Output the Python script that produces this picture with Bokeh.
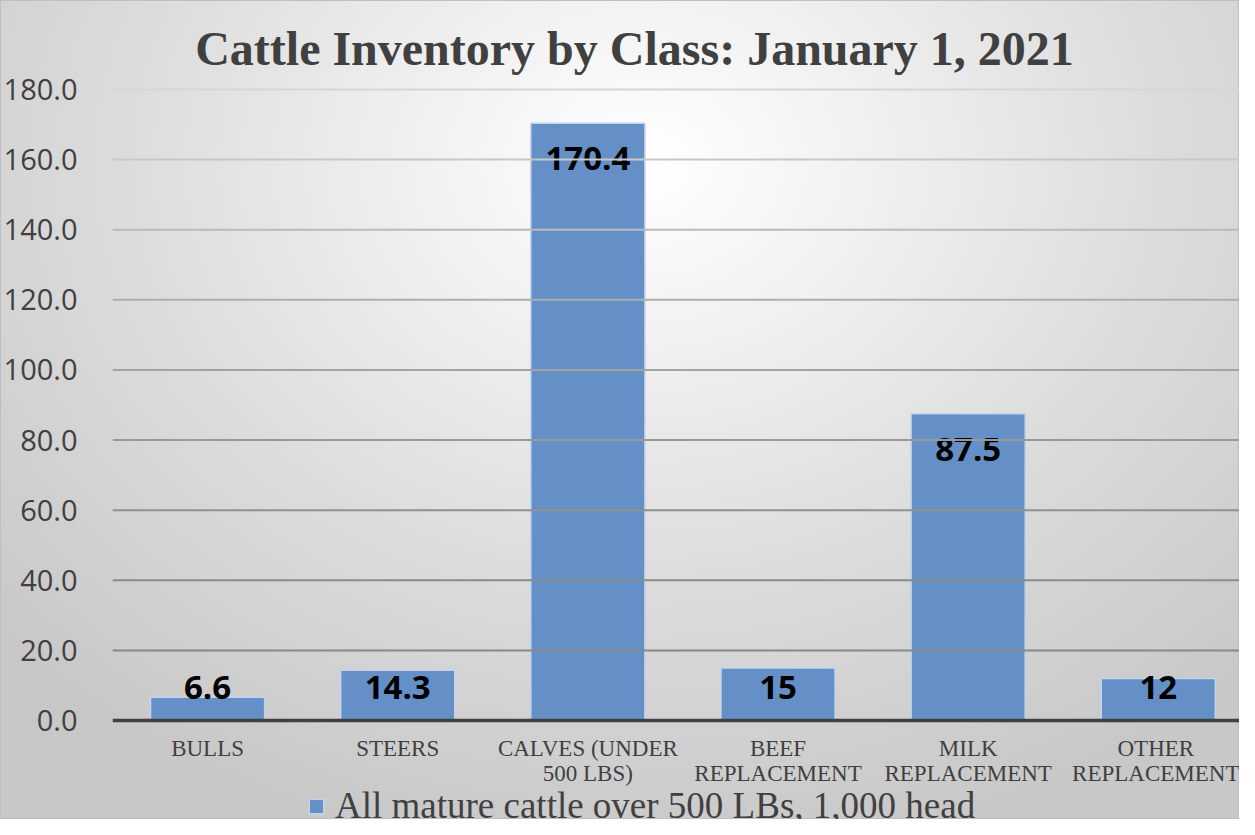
import numpy as np
from bokeh.plotting import figure
from bokeh.models import (Range1d, FixedTicker, PrintfTickFormatter, Span, Label,
                          Legend, LegendItem, ColumnDataSource)
from bokeh.core.properties import value
from bokeh.embed import file_html
from bokeh.resources import INLINE

# ---- data ----
categories = ["BULLS", "STEERS", "CALVES (UNDER\n500 LBS)", "BEEF\nREPLACEMENT",
              "MILK\nREPLACEMENT", "OTHER\nREPLACEMENT"]
values = [6.6, 14.3, 170.4, 15, 87.5, 12]
value_labels = ["6.6", "14.3", "170.4", "15", "87.5", "12"]
y_ticks = [0, 20, 40, 60, 80, 100, 120, 140, 160, 180]
series_name = "All mature cattle over 500 LBs, 1,000 head"
title_text = "Cattle Inventory by Class: January 1, 2021"

# ---- figure ----
x_idx = list(range(len(categories)))
p = figure(width=1239, height=819, output_backend="svg", toolbar_location=None,
           x_range=Range1d(-0.5, 5.427), y_range=Range1d(-28.24, 205.39),
           min_border_left=107, min_border_right=0, min_border_top=0,
           min_border_bottom=0)
p.border_fill_color = None
p.background_fill_color = None
p.outline_line_color = None
p.styles = {
    "background": "radial-gradient(ellipse 70% 85% at 52% 20%, #ffffff 0%, #f1f1f1 25%, #dcdcdc 60%, #c8c8c8 100%)",
    "box-shadow": "inset 0 0 0 1px #bfbfbf",
}
p.xgrid.visible = False
p.ygrid.visible = False

# gridlines (darker toward the bottom)
for t in y_ticks[1:]:
    f = ((t - y_ticks[1]) / (y_ticks[-1] - y_ticks[1])) ** 1.5
    g = int(0x88 + (0xd6 - 0x88) * f)
    p.add_layout(Span(location=t, dimension="width",
                      line_color="#%02x%02x%02x" % (g, g, g), line_width=2))

# bars
src = ColumnDataSource(dict(x=x_idx, top=values))
bars = p.vbar(x="x", top="top", bottom=0, width=0.6, source=src,
              fill_color="#6590c7", line_color="#c3d4ea", line_width=1.5)

# data labels
lab_src = ColumnDataSource(dict(
    x=x_idx,
    y=np.maximum(np.array(values) - 10.1, 9.4),
    text=value_labels))
p.text(x="x", y="y", text="text", source=lab_src,
       text_font=value("Open Sans"), text_font_style="bold",
       text_font_size="33px", text_color="black",
       text_align="center", text_baseline="middle")

# axes
yax = p.yaxis[0]
yax.ticker = FixedTicker(ticks=y_ticks)
yax.formatter = PrintfTickFormatter(format="%.1f")
yax.axis_line_color = None
yax.major_tick_line_color = None
yax.minor_tick_line_color = None
yax.major_label_text_font = "Open Sans"
yax.major_label_text_font_size = "29px"
yax.major_label_text_color = "#404040"
yax.major_label_standoff = 29

xax = p.xaxis[0]
xax.fixed_location = 0
xax.ticker = FixedTicker(ticks=x_idx)
xax.major_label_overrides = {i: c for i, c in zip(x_idx, categories)}
xax.major_label_text_font = "Liberation Serif"
xax.major_label_text_font_size = "23px"
xax.major_label_text_line_height = 1.0
xax.major_label_text_color = "#404040"
xax.major_label_standoff = 9
xax.axis_line_color = "#404040"
xax.axis_line_width = 3.5
xax.major_tick_line_color = None
xax.minor_tick_line_color = None

# title
p.add_layout(Label(x=522, y=771, x_units="screen", y_units="screen",
                   text=title_text, text_align="center",
                   text_baseline="alphabetic",
                   text_font="Liberation Serif", text_font_style="bold",
                   text_font_size="48px", text_color="#404040"))

# legend
legend = Legend(items=[LegendItem(label=series_name, renderers=[bars])],
                location=(195, -8), orientation="horizontal",
                padding=0, margin=0, border_line_color=None,
                background_fill_alpha=0,
                label_text_font="Liberation Serif", label_text_font_size="37px",
                label_text_color="#404040", glyph_width=18, glyph_height=18,
                label_standoff=10)
p.add_layout(legend)

open("out.html", "w").write(file_html(p, INLINE))
